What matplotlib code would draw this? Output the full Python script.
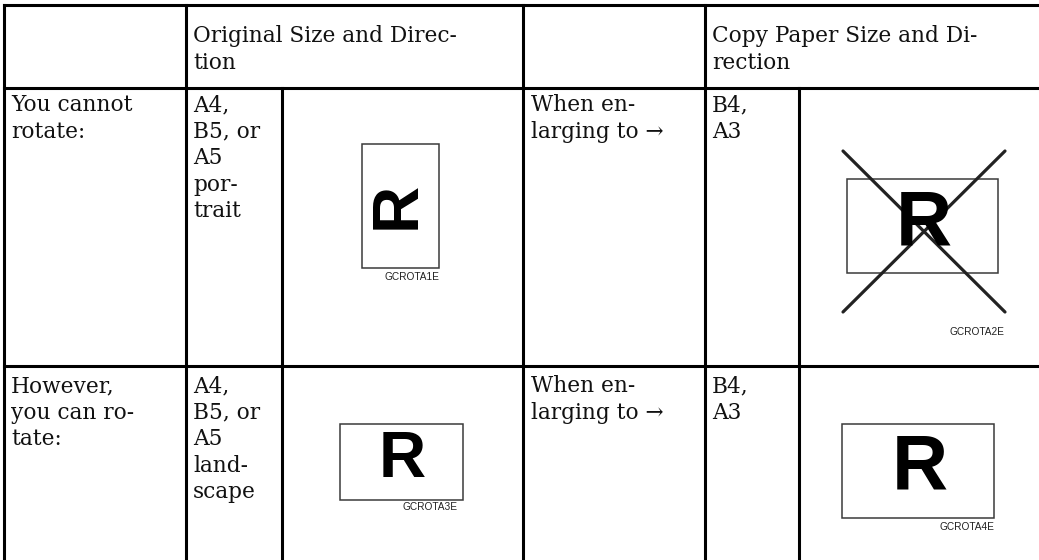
import matplotlib
matplotlib.use("Agg")
import matplotlib.pyplot as plt
from matplotlib.patches import Rectangle

# ---------------------------------------------------------------------------
# Table content
# ---------------------------------------------------------------------------
header_texts = ["Original Size and Direc-\ntion", "Copy Paper Size and Di-\nrection"]
row_labels = ["You cannot\nrotate:", "However,\nyou can ro-\ntate:"]
original_sizes = ["A4,\nB5, or\nA5\npor-\ntrait", "A4,\nB5, or\nA5\nland-\nscape"]
enlarge_texts = ["When en-\nlarging to \u2192", "When en-\nlarging to \u2192"]
copy_sizes = ["B4,\nA3", "B4,\nA3"]
figure_codes = [["GCROTA1E", "GCROTA2E"], ["GCROTA3E", "GCROTA4E"]]
crossed_out = [[False, True], [False, False]]
r_rotation = [[90, 0], [0, 0]]

# ---------------------------------------------------------------------------
# Layout (pixel coordinates)
# ---------------------------------------------------------------------------
W, H = 1039, 560
col_x = [4, 186, 282, 523, 705, 799]
row_y = [5, 88, 366]
pad_x = 7
line_step = 26.6
header_base = 42
row_base = [111, 392]

# figure boxes: (x0, y0, x1, y1), R centre, R size, label centre
boxes = [
    [dict(box=(362, 144, 439, 268), r=(398, 205), rs=47, lab=(412, 277)),
     dict(box=(847, 179, 998, 273), r=(924, 224), rs=56, lab=(977, 332))],
    [dict(box=(340, 424, 463, 500), r=(402, 460), rs=47, lab=(430, 507)),
     dict(box=(842, 424, 994, 518), r=(920, 468), rs=56, lab=(967, 527))],
]

SERIF = "DejaVu Serif"
SANS = "Liberation Sans"
TXT_SIZE = 15.6
LINE_W = 2.2


def put_lines(ax, x, y0, text):
    for i, line in enumerate(text.split("\n")):
        ax.text(x, y0 + i * line_step, line, family=SERIF, fontsize=TXT_SIZE,
                ha="left", va="baseline", color="#111111")


def draw_grid(ax):
    for y in row_y:
        ax.plot([col_x[0], W], [y, y], color="black", lw=LINE_W,
                solid_capstyle="projecting")
    for i, x in enumerate(col_x):
        top = row_y[1] if i in (2, 5) else row_y[0]
        ax.plot([x, x], [top, H], color="black", lw=LINE_W,
                solid_capstyle="projecting")


def draw_figure(ax, spec, rot, code, crossed):
    x0, y0, x1, y1 = spec["box"]
    ax.add_patch(Rectangle((x0, y0), x1 - x0, y1 - y0, fill=False,
                           edgecolor="#3a3a3a", lw=1.1))
    ax.text(*spec["r"], "R", family=SANS, weight="bold", fontsize=spec["rs"],
            rotation=rot, ha="center", va="center", color="black")
    ax.text(*spec["lab"], code, family=SANS, fontsize=7.3,
            ha="center", va="center", color="#222222")
    if crossed:
        cx, cy = spec["r"]
        d = 81
        ax.plot([cx - d, cx + d], [cy - 73, cy + 88], color="#222222",
                lw=2.3, solid_capstyle="round")
        ax.plot([cx + d, cx - d], [cy - 73, cy + 88], color="#222222",
                lw=2.3, solid_capstyle="round")


def main():
    fig = plt.figure(figsize=(W / 100, H / 100), dpi=100)
    ax = fig.add_axes([0, 0, 1, 1])
    ax.set_xlim(0, W)
    ax.set_ylim(H, 0)
    ax.axis("off")

    draw_grid(ax)

    put_lines(ax, col_x[1] + pad_x, header_base, header_texts[0])
    put_lines(ax, col_x[4] + pad_x, header_base, header_texts[1])

    for r in range(2):
        yb = row_base[r]
        put_lines(ax, col_x[0] + pad_x, yb, row_labels[r])
        put_lines(ax, col_x[1] + pad_x, yb, original_sizes[r])
        put_lines(ax, col_x[3] + pad_x + 1, yb, enlarge_texts[r])
        put_lines(ax, col_x[4] + pad_x, yb, copy_sizes[r])
        for c in range(2):
            draw_figure(ax, boxes[r][c], r_rotation[r][c],
                        figure_codes[r][c], crossed_out[r][c])

    fig.savefig("out.png", dpi=100, facecolor="white")


if __name__ == "__main__":
    main()
